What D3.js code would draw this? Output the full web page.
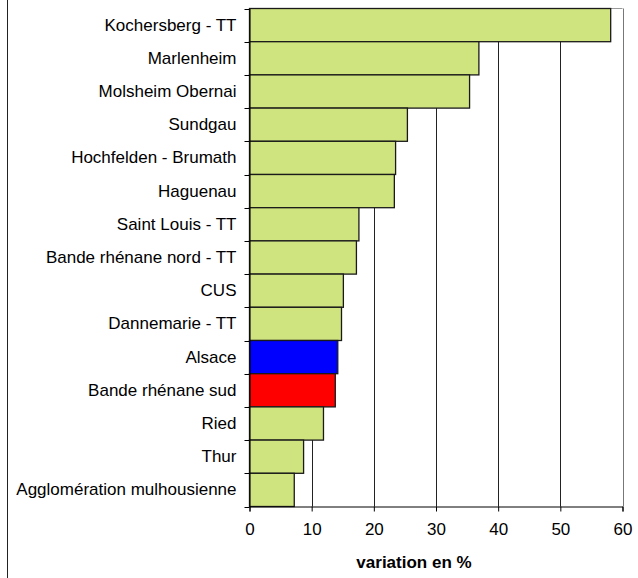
<!DOCTYPE html>
<html>
<head>
<meta charset="utf-8">
<script src="https://cdn.jsdelivr.net/npm/d3@7"></script>
<style>
  html, body { margin: 0; padding: 0; background: #fff; }
  svg { display: block; font-family: Arial, "Liberation Sans", sans-serif; }
</style>
</head>
<body>
<svg id="chart" width="638" height="578"></svg>
<script>
// Variation (%) by territory
const territories = [
  "Kochersberg - TT", "Marlenheim", "Molsheim Obernai", "Sundgau",
  "Hochfelden - Brumath", "Haguenau", "Saint Louis - TT",
  "Bande rhénane nord - TT", "CUS", "Dannemarie - TT", "Alsace",
  "Bande rhénane sud", "Ried", "Thur", "Agglomération mulhousienne"
];
const variation = [58.1, 36.9, 35.4, 25.4, 23.5, 23.3, 17.6, 17.2, 15.1, 14.8, 14.2, 13.8, 11.9, 8.7, 7.2];
const xTicks = [0, 10, 20, 30, 40, 50, 60];
const highlight = { "Alsace": "#0000ff", "Bande rhénane sud": "#ff0000" };
const baseColor = "#cfe47e";
const axisTitle = "variation en %";

const FONT = "Arial, 'Liberation Sans', sans-serif";
const svg = d3.select("#chart");
const plotLeft = 249.5, plotRight = 622.5, plotTop = 8.5, plotBottom = 506.5;

const x = d3.scaleLinear().domain([0, 60]).range([plotLeft, plotRight]);
const y = d3.scaleBand().domain(territories).range([plotTop, plotBottom]).padding(0);

// frame line on the left edge
svg.append("line")
  .attr("x1", 7.5).attr("x2", 7.5).attr("y1", 0).attr("y2", 578)
  .attr("stroke", "#222").attr("stroke-width", 1);

// plot area border (top)
svg.append("line")
  .attr("x1", plotLeft).attr("x2", plotRight).attr("y1", plotTop).attr("y2", plotTop)
  .attr("stroke", "#999");

// vertical gridlines
svg.append("g").selectAll("line")
  .data(xTicks.filter(d => d > 0))
  .join("line")
  .attr("x1", d => Math.round(x(d)) + 0.5).attr("x2", d => Math.round(x(d)) + 0.5)
  .attr("y1", plotTop).attr("y2", plotBottom)
  .attr("stroke", d => d === 60 ? "#777" : "#222").attr("stroke-width", 1);

// bars
svg.append("g").selectAll("rect")
  .data(territories.map((t, i) => ({ t, v: variation[i] })))
  .join("rect")
  .attr("x", x(0))
  .attr("y", d => y(d.t))
  .attr("width", d => x(d.v) - x(0))
  .attr("height", y.bandwidth())
  .attr("fill", d => highlight[d.t] || baseColor)
  .attr("stroke", "#1a1a1a")
  .attr("stroke-width", 1.3);

// category axis
const yAxis = d3.axisLeft(y).tickSize(0).tickPadding(13);
const gy = svg.append("g").attr("transform", `translate(${plotLeft},0)`).call(yAxis);
gy.select(".domain").attr("stroke", "#000");
gy.selectAll("text").attr("font-size", 17).attr("fill", "#000").attr("font-family", FONT);
// band boundary ticks
gy.append("g").selectAll("line")
  .data(d3.range(territories.length + 1))
  .join("line")
  .attr("x1", -5).attr("x2", 0)
  .attr("y1", i => Math.round(plotTop + i * y.step()) + 0.5)
  .attr("y2", i => Math.round(plotTop + i * y.step()) + 0.5)
  .attr("stroke", "#000");

// value axis
const xAxis = d3.axisBottom(x).tickValues(xTicks).tickSize(5).tickPadding(11);
const gx = svg.append("g").attr("transform", `translate(0,${plotBottom})`).call(xAxis);
gx.select(".domain").attr("stroke", "#000");
gx.selectAll(".tick line").attr("stroke", "#000");
gx.selectAll("text").attr("font-size", 17).attr("fill", "#000").attr("font-family", FONT);

svg.append("text")
  .attr("x", 414).attr("y", 568)
  .attr("text-anchor", "middle")
  .attr("font-family", FONT)
  .attr("font-size", 17).attr("font-weight", "bold")
  .text(axisTitle);
</script>
</body>
</html>
